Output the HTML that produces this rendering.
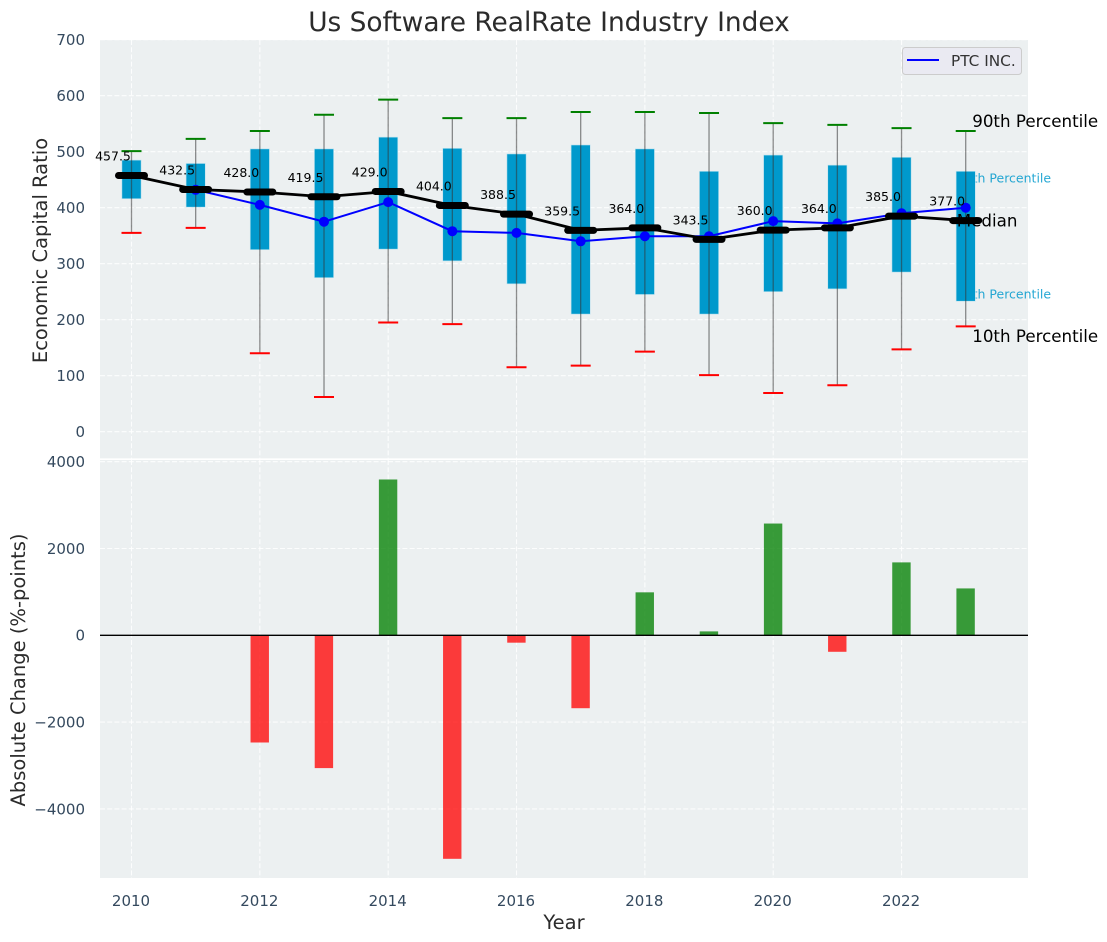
<!DOCTYPE html>
<html lang="en">
<head>
<meta charset="utf-8">
<title>Us Software RealRate Industry Index</title>
<style>
html,body{margin:0;padding:0;background:#fff;}
svg{display:block;font-family:"DejaVu Sans","Liberation Sans",sans-serif;}
</style>
</head>
<body>
<svg id="chart" width="1107" height="942" viewBox="0 0 1107 942" xmlns="http://www.w3.org/2000/svg">
  <rect x="0" y="0" width="1107" height="942" fill="#ffffff"/>
  <rect x="100" y="40" width="928" height="419" fill="#ecf0f1"/>
  <rect x="100" y="460" width="928" height="418" fill="#ecf0f1"/>
  <g id="grid"></g>
  <g id="top-marks"></g>
  <g id="bottom-marks"></g>
  <g id="ticks"></g>
  <text x="549" y="31" text-anchor="middle" font-size="26.4" fill="#2b2b2b">Us Software RealRate Industry Index</text>
  <text transform="translate(47,250.5) rotate(-90)" text-anchor="middle" font-size="19.5" fill="#2b2b2b">Economic Capital Ratio</text>
  <text transform="translate(25,670) rotate(-90)" text-anchor="middle" font-size="19.5" fill="#2b2b2b">Absolute Change (%-points)</text>
  <text x="564" y="929" text-anchor="middle" font-size="19.5" fill="#2b2b2b">Year</text>
  <g>
    <rect x="902.5" y="47.5" width="119" height="27" rx="3" fill="#eaeaf2" stroke="#cccccc" stroke-width="1"/>
    <line x1="907" y1="60" x2="939" y2="60" stroke="#0000ff" stroke-width="2"/>
    <text x="951" y="66" font-size="15.3" fill="#333333">PTC INC.</text>
  </g>
</svg>
<script>
const years = [2010,2011,2012,2013,2014,2015,2016,2017,2018,2019,2020,2021,2022,2023];
const p90 = [501,523,537,566,593,560,560,571,571,569,551,548,542,537];
const p75 = [485,479,505,505,526,506,496,512,505,465,494,476,490,465];
const medianValues = [457.5,432.5,428.0,419.5,429.0,404.0,388.5,359.5,364.0,343.5,360.0,364.0,385.0,377.0];
const p25 = [416,401,325,275,326,305,264,210,245,210,250,255,285,233];
const p10 = [355,364,140,62,195,192,115,118,143,101,69,83,147,188];
const ptc = [null,432,405,375,410,358,355,340,349,349,376,372,390,400];
const changes = [null,null,-2470,-3060,3590,-5150,-170,-1680,990,90,2575,-380,1680,1080];
const xTickLabels = [2010,2012,2014,2016,2018,2020,2022];
const topTickLabels = [0,100,200,300,400,500,600,700];
const bottomTickLabels = [-4000,-2000,0,2000,4000];

const NS = 'http://www.w3.org/2000/svg';
const xScale = function (yr) { return 131.5 + 64.17 * (yr - 2010); };
const yTop = function (v) { return 431.7 - 0.56 * v; };
const yBottom = function (v) { return 635.3 - 0.0434 * v; };
const gridG = document.getElementById('grid');
const topG = document.getElementById('top-marks');
const bottomG = document.getElementById('bottom-marks');
const ticksG = document.getElementById('ticks');

function make(tag, parent, attrs) {
  const node = document.createElementNS(NS, tag);
  for (const k in attrs) { node.setAttribute(k, attrs[k]); }
  parent.appendChild(node);
  return node;
}
const gridStyle = {stroke:'#ffffff','stroke-width':1.1,'stroke-dasharray':'5 2.2','stroke-opacity':0.85};
let el;

xTickLabels.forEach(function (yr) {
  const x = xScale(yr);
  el = make('line', gridG, Object.assign({x1:x,y1:40,x2:x,y2:459}, gridStyle));
  
  
  el = make('line', gridG, Object.assign({x1:x,y1:460,x2:x,y2:878}, gridStyle));
  
  
  el = make('text', ticksG, {x:x-0.5,y:906,'text-anchor':'middle','font-size':15,fill:'#34495e'});
  el.textContent = yr;
  
  
});
topTickLabels.forEach(function (v) {
  const y = yTop(v);
  el = make('line', gridG, Object.assign({x1:100,y1:y,x2:1028,y2:y}, gridStyle));
  
  
  el = make('text', ticksG, {x:85,y:y+5.4,'text-anchor':'end','font-size':15,fill:'#34495e'});
  el.textContent = v;
  
  
});
bottomTickLabels.forEach(function (v) {
  const y = yBottom(v);
  el = make('line', gridG, Object.assign({x1:100,y1:y,x2:1028,y2:y}, gridStyle));
  
  
  el = make('text', ticksG, {x:85,y:y+5.4,'text-anchor':'end','font-size':15,fill:'#34495e'});
  el.textContent = String(v).replace('-', '\u2212');
  
  
});
el = make('line', gridG, {x1:100,y1:459.2,x2:1028,y2:459.2,stroke:'#ffffff','stroke-width':1.6});



const lastIdx = years.length - 1;
const lastX = xScale(years[lastIdx]);
el = make('text', topG, {x:lastX-9,y:yTop(p75[lastIdx])+11.3,'font-size':12.5,fill:'#0099cc','fill-opacity':0.85});
el.textContent = '75th Percentile';


el = make('text', topG, {x:lastX-9,y:yTop(p25[lastIdx])-2.7,'font-size':12.5,fill:'#0099cc','fill-opacity':0.85});
el.textContent = '25th Percentile';



years.forEach(function (yr, i) {
  const x = xScale(yr);
  const yHi = yTop(p75[i]);
  const yLo = yTop(p25[i]);
  el = make('rect', topG, {x:x-9.6,y:yHi,width:19.2,height:yLo-yHi,fill:'#0099cc',stroke:'#bfe3ef','stroke-width':0.6});
  
  
  el = make('line', topG, {x1:x,y1:yTop(p90[i]),x2:x,y2:yTop(p10[i]),stroke:'#333333','stroke-width':1.3,'stroke-opacity':0.55});
  
  
  el = make('line', topG, {x1:x-10,y1:yTop(p90[i]),x2:x+10,y2:yTop(p90[i]),stroke:'#008000','stroke-width':2});
  
  
  el = make('line', topG, {x1:x-10,y1:yTop(p10[i]),x2:x+10,y2:yTop(p10[i]),stroke:'#ff0000','stroke-width':2});
  
  
});

el = make('text', topG, {x:lastX+6.5,y:yTop(p90[lastIdx])-4,'font-size':16.7,fill:'#000000'});
el.textContent = '90th Percentile';


el = make('text', topG, {x:lastX+6.5,y:yTop(p10[lastIdx])+15.7,'font-size':16.7,fill:'#000000'});
el.textContent = '10th Percentile';


el = make('text', topG, {x:lastX-9,y:yTop(medianValues[lastIdx])+6,'font-size':16.7,fill:'#000000'});
el.textContent = 'Median';



const ptcPoints = [];
years.forEach(function (yr, i) {
  if (ptc[i] !== null) { ptcPoints.push(xScale(yr) + ',' + yTop(ptc[i])); }
});
el = make('polyline', topG, {points:ptcPoints.join(' '),fill:'none',stroke:'#0000ff','stroke-width':2});


years.forEach(function (yr, i) {
  if (ptc[i] === null) { return; }
  el = make('circle', topG, {cx:xScale(yr),cy:yTop(ptc[i]),r:5,fill:'#0000ff'});
  
  
});

const medianPoints = years.map(function (yr, i) { return xScale(yr) + ',' + yTop(medianValues[i]); });
el = make('polyline', topG, {points:medianPoints.join(' '),fill:'none',stroke:'#000000','stroke-width':2.8});


years.forEach(function (yr, i) {
  const x = xScale(yr);
  const y = yTop(medianValues[i]);
  el = make('line', topG, {x1:x-13,y1:y,x2:x+13,y2:y,stroke:'#000000','stroke-width':7,'stroke-linecap':'round'});
  
  
  el = make('text', topG, {x:x-18.5,y:y-15,'text-anchor':'middle','font-size':12.5,fill:'#000000'});
  el.textContent = medianValues[i].toFixed(1);
  
  
});

years.forEach(function (yr, i) {
  const v = changes[i];
  if (v === null) { return; }
  const y0 = yBottom(0);
  const y1 = yBottom(v);
  el = make('rect', bottomG, {x:xScale(yr)-9.3,y:Math.min(y0,y1),width:18.4,height:Math.abs(y1-y0),fill:v >= 0 ? '#008000' : '#ff0000','fill-opacity':v >= 0 ? 0.77 : 0.76});
  
  
});
el = make('line', bottomG, {x1:100,y1:yBottom(0),x2:1028,y2:yBottom(0),stroke:'#000000','stroke-width':1.3});


</script>
</body>
</html>
